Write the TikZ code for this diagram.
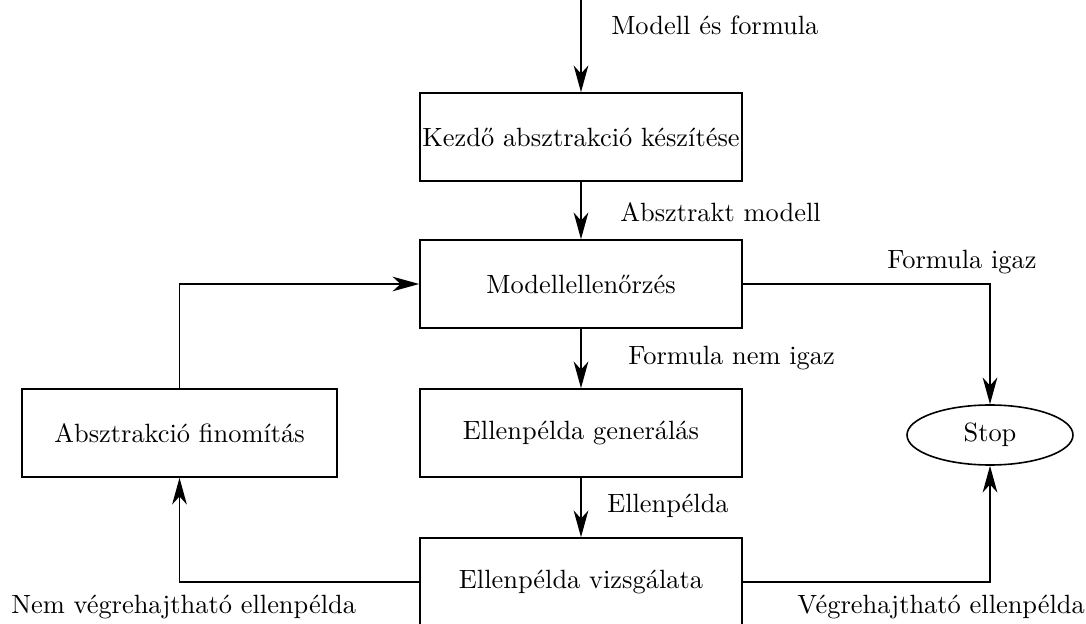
\documentclass[tikz,border=0pt]{standalone}
\usepackage{fontspec}
\setmainfont{lmroman10-regular.otf}
\usepackage{tikz}
\usetikzlibrary{arrows.meta,shapes.geometric,positioning}

\begin{document}
\begin{tikzpicture}[x=0.75pt,y=0.75pt,yscale=-1,xscale=1,
  font=\fontsize{19.8}{23}\selectfont,
  box/.style={draw,line width=1.2pt,minimum width=241.5pt,minimum height=66pt,inner sep=0.5pt},
  stopnode/.style={draw,ellipse,line width=1.2pt,minimum width=124.5pt,minimum height=45pt,inner sep=0pt},
  lbl/.style={anchor=west,inner sep=0.75pt},
  arr/.style={line width=1.2pt,-{Stealth[length=20pt,width=11pt,inset=6pt]}}]
\useasboundingbox (0,0) rectangle (1086,624);

%Boxes
\node[box] (kezdo) at (581,137) {Kezdő absztrakció készítése};
\node[box] (ellen) at (581,284) {Modellellenőrzés};
\node[box] (gen) at (581,433) {Ellenpélda generálás};
\node[box] (vizs) at (581,582) {Ellenpélda vizsgálata};
\node[box,minimum width=236pt] (fin) at (179.5,433) {Absztrakció finomítás};
\node[stopnode] (stop) at (990,435) {Stop};
\coordinate (start) at (581,0);

%Arrows
\draw[arr] (start) -- (kezdo);
\draw[arr] (kezdo) -- (ellen);
\draw[arr] (ellen) -- (gen);
\draw[arr] (gen) -- (vizs);
\draw[arr] (ellen) -| (stop);
\draw[arr] (fin) |- (ellen);
\draw[arr] (vizs) -| (fin);
\draw[arr] (vizs) -| (stop);

% Text Nodes
\node[lbl] (l1) at (610,25) {Modell és formula};
\node[lbl] (l2) at (619,212) {Absztrakt modell};
\node[lbl] (l3) at (886,262) {Formula igaz};
\node[lbl] (l4) at (627,358) {Formula nem igaz};
\node[lbl] (l5) at (606,506) {Ellenpélda};
\node[lbl] (l6) at (10,607) {Nem végrehajtható ellenpélda};
\node[lbl] (l7) at (796,607) {Végrehajtható ellenpélda};

\end{tikzpicture}
\end{document}
